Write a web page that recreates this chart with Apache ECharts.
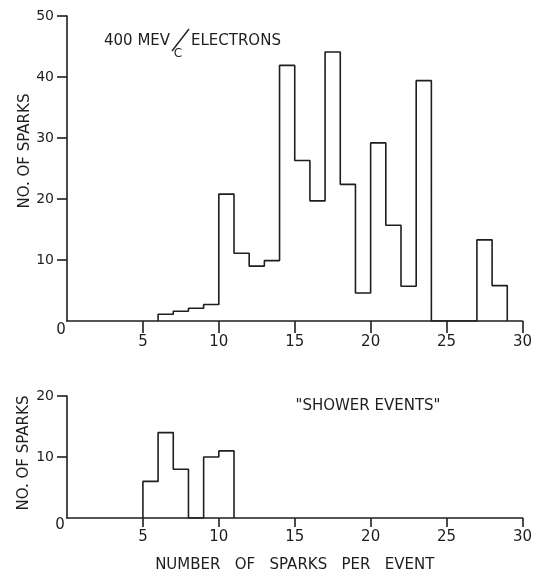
<!DOCTYPE html>
<html>
<head>
<meta charset="utf-8">
<title>Number of sparks per event</title>
<script src="https://cdn.jsdelivr.net/npm/echarts@6/dist/echarts.min.js"></script>
<style>
html, body { margin: 0; padding: 0; background: #fff; }
#chart { width: 535px; height: 574px; }
</style>
</head>
<body>
<div id="chart"></div>
<script>
// upper histogram: 400 MeV/c electrons, one bin per spark count, first bin at 6
const electronBinStart = 6
const electronCounts = [1.1, 1.6, 2.1, 2.7, 20.8, 11.1, 9.0, 9.9, 41.9, 26.3, 19.7, 44.1, 22.4, 4.6, 29.2, 15.7, 5.7, 39.4, 0, 0, 0, 13.3, 5.8]
// lower histogram: "shower events", first bin at 5
const showerBinStart = 5
const showerCounts = [6.0, 14.0, 8.0, 0, 10.0, 11.0]

const xTicks = [5, 10, 15, 20, 25, 30]
const electronYTicks = [10, 20, 30, 40, 50]
const showerYTicks = [10, 20]

const ink = '#1e1e1e'
const font = 'DejaVu Sans'

// histogram outline: up at the first edge, across every bin, down at the last edge
function outline(start, counts) {
  const pts = [[start, 0]]
  counts.forEach((c, i) => {
    pts.push([start + i, c])
    pts.push([start + i + 1, c])
  })
  pts.push([start + counts.length, 0])
  return pts
}

function xAxisFor(gridIndex, tickLen, margin) {
  return {
    type: 'value',
    gridIndex,
    min: 0,
    max: 30,
    axisLine: { show: true, onZero: false, lineStyle: { color: ink, width: 1.6 } },
    axisTick: { show: true, customValues: xTicks, length: tickLen, lineStyle: { color: ink, width: 1.6 } },
    axisLabel: { customValues: xTicks, margin, color: ink, fontSize: 15, fontFamily: font },
    splitLine: { show: false },
  }
}

function yAxisFor(gridIndex, max, ticks) {
  return {
    type: 'value',
    gridIndex,
    min: 0,
    max,
    interval: 10,
    axisLine: { show: true, onZero: false, lineStyle: { color: ink, width: 1.6 } },
    axisTick: { show: true, customValues: ticks, length: 10, lineStyle: { color: ink, width: 1.6 } },
    axisLabel: { customValues: ticks, margin: 13, color: ink, fontSize: 14, fontFamily: font },
    splitLine: { show: false },
  }
}

function label(text, x, y, extra) {
  return Object.assign({
    type: 'text',
    x,
    y,
    style: { text, fill: ink, fontSize: 15, fontFamily: font, align: 'center', verticalAlign: 'middle' },
  }, extra || {})
}

const xAxes = [xAxisFor(0, 12, 14), xAxisFor(1, 9, 12)]
xAxes[1].name = 'NUMBER   OF   SPARKS   PER   EVENT'
xAxes[1].nameLocation = 'middle'
xAxes[1].nameGap = 40
xAxes[1].nameTextStyle = { color: ink, fontSize: 15, fontFamily: font }

const options = {
  backgroundColor: '#fff',
  animation: false,
  grid: [
    { left: 67, right: 12, top: 16, height: 305 },
    { left: 67, right: 12, top: 396, height: 122 },
  ],
  xAxis: xAxes,
  yAxis: [yAxisFor(0, 50, electronYTicks), yAxisFor(1, 20, showerYTicks)],
  series: [
    {
      type: 'line',
      xAxisIndex: 0,
      yAxisIndex: 0,
      data: outline(electronBinStart, electronCounts),
      showSymbol: false,
      lineStyle: { color: ink, width: 1.6 },
    },
    {
      type: 'line',
      xAxisIndex: 1,
      yAxisIndex: 1,
      data: outline(showerBinStart, showerCounts),
      showSymbol: false,
      lineStyle: { color: ink, width: 1.6 },
    },
  ],
  graphic: [
    label('NO. OF SPARKS', 25, 151, { rotation: Math.PI / 2 }),
    label('NO. OF SPARKS', 24, 453, { rotation: Math.PI / 2 }),
    label('0', 61, 330),
    label('0', 60, 525),
    // title: 400 MEV/C ELECTRONS, with the c set under the slash
    label('400 MEV', 104, 41, { style: { text: '400 MEV', fill: ink, fontSize: 15, fontFamily: font, align: 'left', verticalAlign: 'middle' } }),
    { type: 'line', shape: { x1: 172, y1: 51, x2: 189, y2: 29 }, style: { stroke: ink, lineWidth: 1.4 } },
    label('C', 178, 54, { style: { text: 'C', fill: ink, fontSize: 12, fontFamily: font, align: 'center', verticalAlign: 'middle' } }),
    label('ELECTRONS', 191, 41, { style: { text: 'ELECTRONS', fill: ink, fontSize: 15, fontFamily: font, align: 'left', verticalAlign: 'middle' } }),
    label('"SHOWER EVENTS"', 368, 406),
  ],
}

const chart = echarts.init(document.getElementById('chart'))
chart.setOption(options)
</script>
</body>
</html>
